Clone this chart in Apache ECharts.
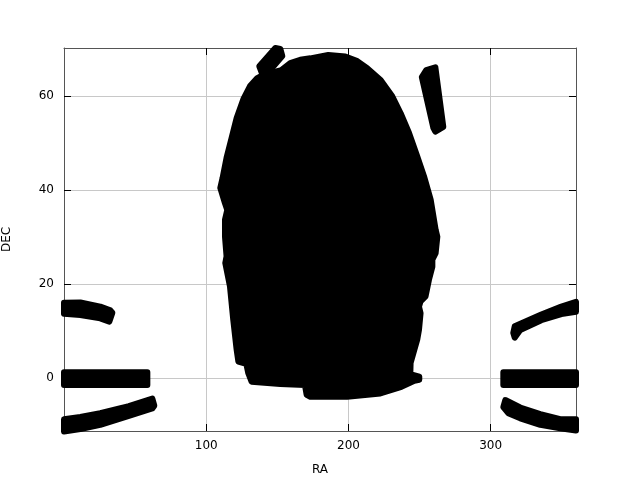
<!DOCTYPE html>
<html><head><meta charset="utf-8">
<script src="https://cdn.jsdelivr.net/npm/echarts@6/dist/echarts.min.js"></script>
<style>html,body{margin:0;padding:0;background:#fff}#c{width:640px;height:480px}</style>
</head><body><div id="c"></div>
<script>
// Axis ticks and ranges
const xTicks = [100, 200, 300];
const yTicks = [0, 20, 40, 60];
const raRange = [0, 360];
const decRange = [-11.3, 70.3];

// Footprint outlines, [RA, DEC] in degrees
const mainFootprint = [
  [152.8,65.6],[159.1,67.1],[166.1,67.8],[173.2,68.1],[185.8,68.8],[197.8,68.5],[206.2,67.5],
  [213.2,66.0],[222.6,63.5],[230.8,60.0],[236.7,56.4],[242.6,52.2],[248.4,47.2],[253.1,43.0],
  [257.8,38.0],[261.3,31.6],[262.5,30.1],[261.3,26.6],[259.0,25.2],
  [259.0,23.7],[256.6,20.9],[254.2,17.4],[250.7,16.3],[249.6,15.2],[250.7,13.8],[249.6,10.3],
  [248.4,8.2],[243.7,3.2],[243.5,0.8],[249.8,0.3],[249.8,-0.4],[246.3,-0.6],[237.2,-1.9],
  [222.4,-3.3],[199.0,-4.0],[173.2,-4.0],[170.6,-3.6],[169.4,-1.5],[152.1,-1.3],[131.9,-0.8],
  [129.6,1.0],[128.2,3.0],[122.6,3.5],[121.4,6.0],[119.0,12.4],[116.7,19.5],[113.4,24.5],
  [114.3,25.9],[113.2,30.1],[113.2,33.7],[114.8,35.8],[113.2,37.2],[109.9,40.5],[111.5,42.6],
  [114.3,46.9],[117.8,51.1],[121.4,55.4],[126.1,59.4],[130.8,62.2],[135.9,63.9],[141.0,64.7]
];
const northTopStripe = [[137.3,66.4],[148.6,70.3],[152.1,70.1],[153.5,68.6],[145.0,65.6],[139.4,64.7]];
const northEastStripe = [[251.6,64.1],[254.7,65.6],[261.1,66.2],[266.7,53.5],[261.1,52.5],[259.7,53.3]];
const leftStripeDec15 = [[0,16.0],[11.5,16.1],[25.5,15.2],[32.6,14.4],[34.0,13.9],[31.9,12.0],[25.5,12.7],[11.5,13.4],[0,13.7]];
const leftStripeDec0 = [[0,1.2],[58.6,1.2],[58.6,-1.5],[0,-1.5]];
const leftStripeDecM10 = [[0,-8.8],[11.5,-8.3],[25.5,-7.5],[45.6,-6.0],[62.1,-4.4],[63.5,-5.9],[62.1,-6.5],[45.6,-8.1],[25.5,-10.0],[11.5,-10.9],[0,-11.4]];
const rightStripeDec12 = [[316.9,11.0],[335.6,13.5],[349.7,15.2],[360,16.2],[360,14.1],[349.7,13.6],[335.6,12.3],[320.8,10.2],[316.9,8.6],[315.9,9.6]];
const rightStripeDec0 = [[308.9,1.2],[360,1.2],[360,-1.5],[308.9,-1.5]];
const rightStripeDecM8 = [[310.3,-4.7],[320.8,-6.3],[334.9,-7.7],[348.9,-8.8],[360,-8.8],[360,-11.2],[348.9,-10.7],[334.9,-10.0],[320.8,-8.6],[312.4,-7.5],[308.9,-6.2]];

const regions = [mainFootprint, northTopStripe, northEastStripe, leftStripeDec15, leftStripeDec0,
  leftStripeDecM10, rightStripeDec12, rightStripeDec0, rightStripeDecM8];

const font = 'DejaVu Sans';
const chart = echarts.init(document.getElementById('c'), null, {renderer: 'canvas'});

function polySeries(pts) {
  return {
    type: 'custom',
    coordinateSystem: 'cartesian2d',
    xAxisIndex: 0, yAxisIndex: 0,
    clip: false,
    silent: true,
    data: pts,
    encode: {x: 0, y: 1},
    renderItem: function (params, api) {
      if (params.dataIndex !== 0) return null;
      return {
        type: 'polygon',
        shape: {points: pts.map(function (p) { return api.coord(p); }), smooth: 0},
        style: {fill: '#000', stroke: '#000', lineWidth: 6, lineJoin: 'round'}
      };
    }
  };
}

const tickStyle = {color: '#000', width: 1};
const frameStyle = {color: '#555', width: 1};
const labelStyle = {fontFamily: font, fontSize: 12, color: '#000'};

chart.setOption({
  backgroundColor: '#fff',
  animation: false,
  grid: {left: 64, right: 64, top: 48, bottom: 49, containLabel: false, outerBoundsMode: 'none'},
  xAxis: [
    {type: 'value', min: raRange[0], max: raRange[1], position: 'bottom',
     name: 'RA', nameLocation: 'middle', nameGap: 33, nameTextStyle: labelStyle,
     axisLine: {show: true, onZero: false, lineStyle: frameStyle},
     axisTick: {show: true, inside: true, length: 7, customValues: xTicks, lineStyle: tickStyle},
     axisLabel: Object.assign({customValues: xTicks, margin: 9}, labelStyle),
     splitLine: {show: true, lineStyle: {color: '#c8c8c8', width: 1}}},
    {type: 'value', min: raRange[0], max: raRange[1], position: 'top',
     axisLine: {show: true, onZero: false, lineStyle: frameStyle},
     axisTick: {show: true, inside: true, length: 7, customValues: xTicks, lineStyle: tickStyle},
     axisLabel: {show: false}, splitLine: {show: false}}
  ],
  yAxis: [
    {type: 'value', min: decRange[0], max: decRange[1], position: 'left',
     name: 'DEC', nameLocation: 'middle', nameGap: 51, nameRotate: 90, nameTextStyle: labelStyle,
     axisLine: {show: true, onZero: false, lineStyle: frameStyle},
     axisTick: {show: true, inside: true, length: 7, customValues: yTicks, lineStyle: tickStyle},
     axisLabel: Object.assign({customValues: yTicks, margin: 10}, labelStyle),
     splitLine: {show: true, lineStyle: {color: '#c8c8c8', width: 1}}},
    {type: 'value', min: decRange[0], max: decRange[1], position: 'right',
     axisLine: {show: true, onZero: false, lineStyle: frameStyle},
     axisTick: {show: true, inside: true, length: 7, customValues: yTicks, lineStyle: tickStyle},
     axisLabel: {show: false}, splitLine: {show: false}}
  ],
  series: regions.map(polySeries)
});
</script>
</body></html>
